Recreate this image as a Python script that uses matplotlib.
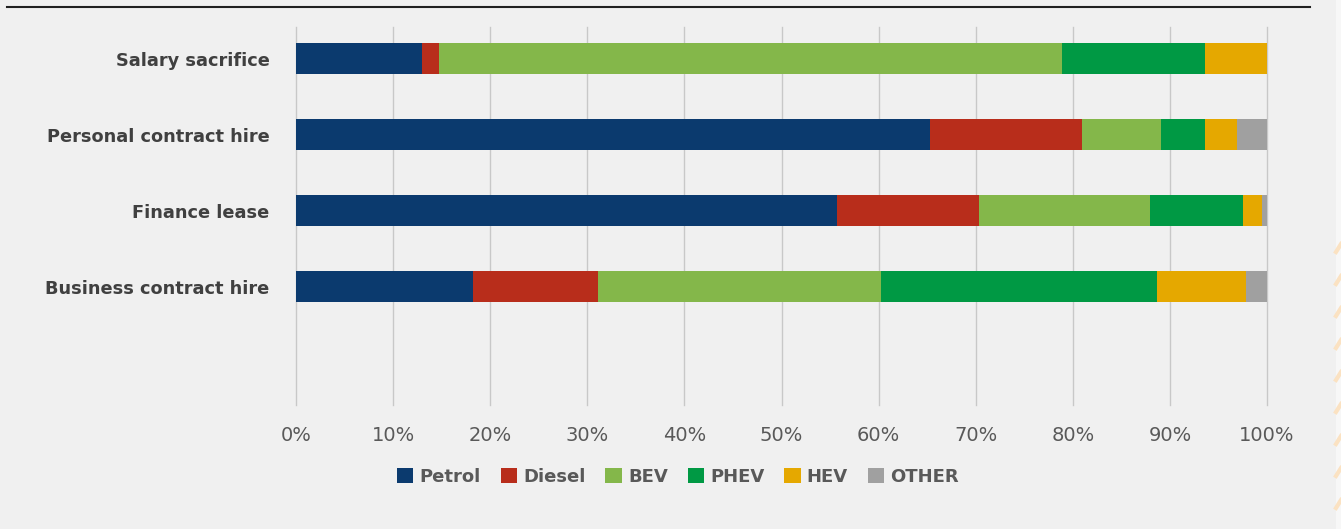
import matplotlib
matplotlib.use("Agg")
import matplotlib.pyplot as plt
import numpy as np

categories = ["Salary sacrifice", "Personal contract hire", "Finance lease", "Business contract hire"]
series = ["Petrol", "Diesel", "BEV", "PHEV", "HEV", "OTHER"]
petrol = [13.0, 65.3, 55.7, 18.2]
diesel = [1.7, 15.6, 14.6, 12.9]
bev = [64.2, 8.2, 17.7, 29.1]
phev = [14.7, 4.5, 9.5, 28.5]
hev = [6.4, 3.3, 2.0, 9.1]
other = [0.0, 3.1, 0.5, 2.2]
values = [petrol, diesel, bev, phev, hev, other]
colors = ["#0b3a6e", "#b82d1b", "#84b74a", "#009944", "#e5a800", "#a0a0a0"]
xticks = [0, 10, 20, 30, 40, 50, 60, 70, 80, 90, 100]
xticklabels = [f"{t}%" for t in xticks]

W, H = 1341, 529
bg = "#f0f0f0"
fig = plt.figure(figsize=(W/100, H/100), dpi=100, facecolor=bg)
ax = fig.add_axes([296/W, 1-405/H, (1267-296)/W, (405-27)/H], facecolor=bg)

y = np.arange(len(categories))
left = np.zeros(len(categories))
for name, vals, c in zip(series, values, colors):
    ax.barh(y, vals, left=left, height=0.41, color=c, label=name, zorder=3)
    left += np.array(vals)

ax.set_xlim(0, 100)
ax.set_ylim(4.56, -0.42)
ax.set_xticks(xticks)
ax.set_xticklabels(xticklabels, fontsize=14, color="#595959", family="DejaVu Sans")
ax.set_yticks(y)
ax.set_yticklabels(categories, fontsize=12.8, color="#404040", family="DejaVu Sans", fontweight="bold")
ax.tick_params(axis="both", length=0)
ax.tick_params(axis="x", pad=15)
ax.tick_params(axis="y", pad=19)
ax.grid(axis="x", color="#c8c8c8", linewidth=1, zorder=0)
for gl in ax.get_xgridlines():
    gl.set_clip_on(False)
for s in ax.spines.values():
    s.set_visible(False)

# top rule
fig.add_artist(plt.Line2D([7/W, 1310/W], [1-7/H, 1-7/H], color="#202020", linewidth=1.5))

# faint page decoration at right edge
fig.add_artist(plt.Rectangle((1336/W, 0), 5/W, 1, transform=fig.transFigure,
                             facecolor="#f7f7f7", edgecolor="none"))
for yy in range(248, 529, 32):
    fig.add_artist(plt.Line2D([1336/W, 1341/W], [1-(yy+4)/H, 1-(yy-4)/H],
                              color="#fbe2c2", linewidth=3))

leg = fig.legend(loc="center", bbox_to_anchor=(678/W, 1-477/H), ncol=6, frameon=False,
                 handlelength=0.9, handleheight=0.9, handletextpad=0.35, columnspacing=1.1,
                 prop={"family": "DejaVu Sans", "weight": "bold", "size": 13})
for t in leg.get_texts():
    t.set_color("#595959")

fig.savefig("out.png", dpi=100, facecolor=bg)
